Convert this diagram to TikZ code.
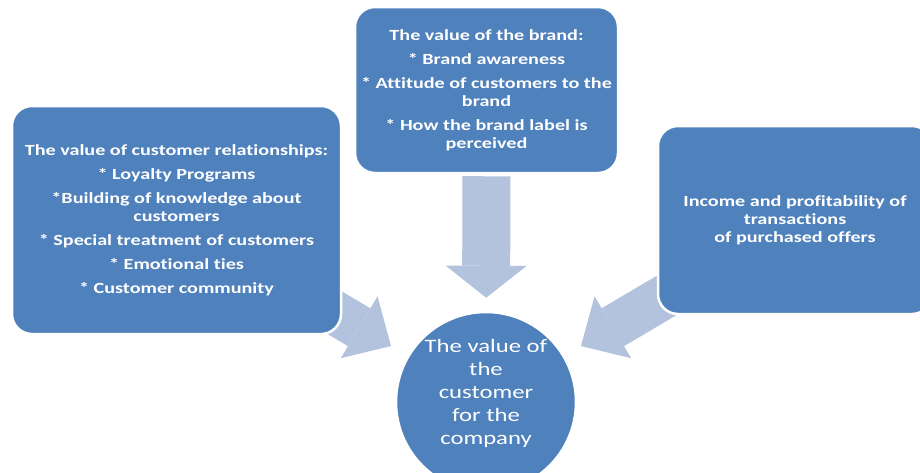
\documentclass[tikz,border=0pt]{standalone}
\usepackage{fontspec}
\setmainfont{Carlito}[FakeStretch=1.3, Ligatures=NoCommon]
\usepackage{tikz}
\usetikzlibrary{positioning, arrows.meta, backgrounds}

\definecolor{boxblue}{RGB}{79,129,189}
\definecolor{flowblue}{RGB}{179,195,221}

\tikzset{
  valuebox/.style={rectangle, rounded corners=20pt, draw=white, line width=2.5pt, fill=boxblue,
    text=white, font=\bfseries\fontsize{15.5}{18}\selectfont, align=center, inner sep=0pt},
  flow/.style={flowblue, line width=44pt, -{Triangle[length=37pt, width=72pt, line width=0pt]}},
}

\begin{document}
\begin{tikzpicture}[x=1pt, y=-1pt]
                \useasboundingbox (0,0) rectangle (920,472);

                \node[valuebox, minimum width=329pt, minimum height=228pt] (rel) at (176.5, 220) {The value of customer relationships:\\[6pt] * Loyalty Programs\\[6pt] *Building of knowledge about\\ customers\\[6pt] * Special treatment of customers\\[6pt] * Emotional ties\\[6pt] * Customer community};
                \node[valuebox, minimum width=263pt, minimum height=166pt] (brand) at (486.5, 90) {The value of the brand:\\[6pt] * Brand awareness\\[6pt] * Attitude of customers to the\\ brand\\[6pt] * How the brand label is\\ perceived};
                \node[valuebox, minimum width=274pt, minimum height=188pt] (income) at (795, 220) {Income and profitability of\\ transactions\\ of purchased offers};
                \node[circle, draw=white, line width=2.5pt, fill=boxblue, minimum size=180pt, inner sep=0pt,
                      label={[yshift=9pt, text=white, align=center, font=\fontsize{19}{23}\selectfont]center:{The value of\\ the\\ customer\\ for the\\ company}}] (cust) at (486, 402) {};

                \begin{scope}[on background layer]
                \draw[flow, line width=48pt, -{Triangle[length=32pt, width=81pt, line width=0pt]}, shorten <=2pt, shorten >=13pt] (brand) -- (cust);
                \draw[flow, shorten <=-20pt, shorten >=19pt] (rel) -- (cust);
                \draw[flow, shorten <=-20pt, shorten >=19pt] (income) -- (cust);
                \end{scope}
            \end{tikzpicture}
\end{document}
